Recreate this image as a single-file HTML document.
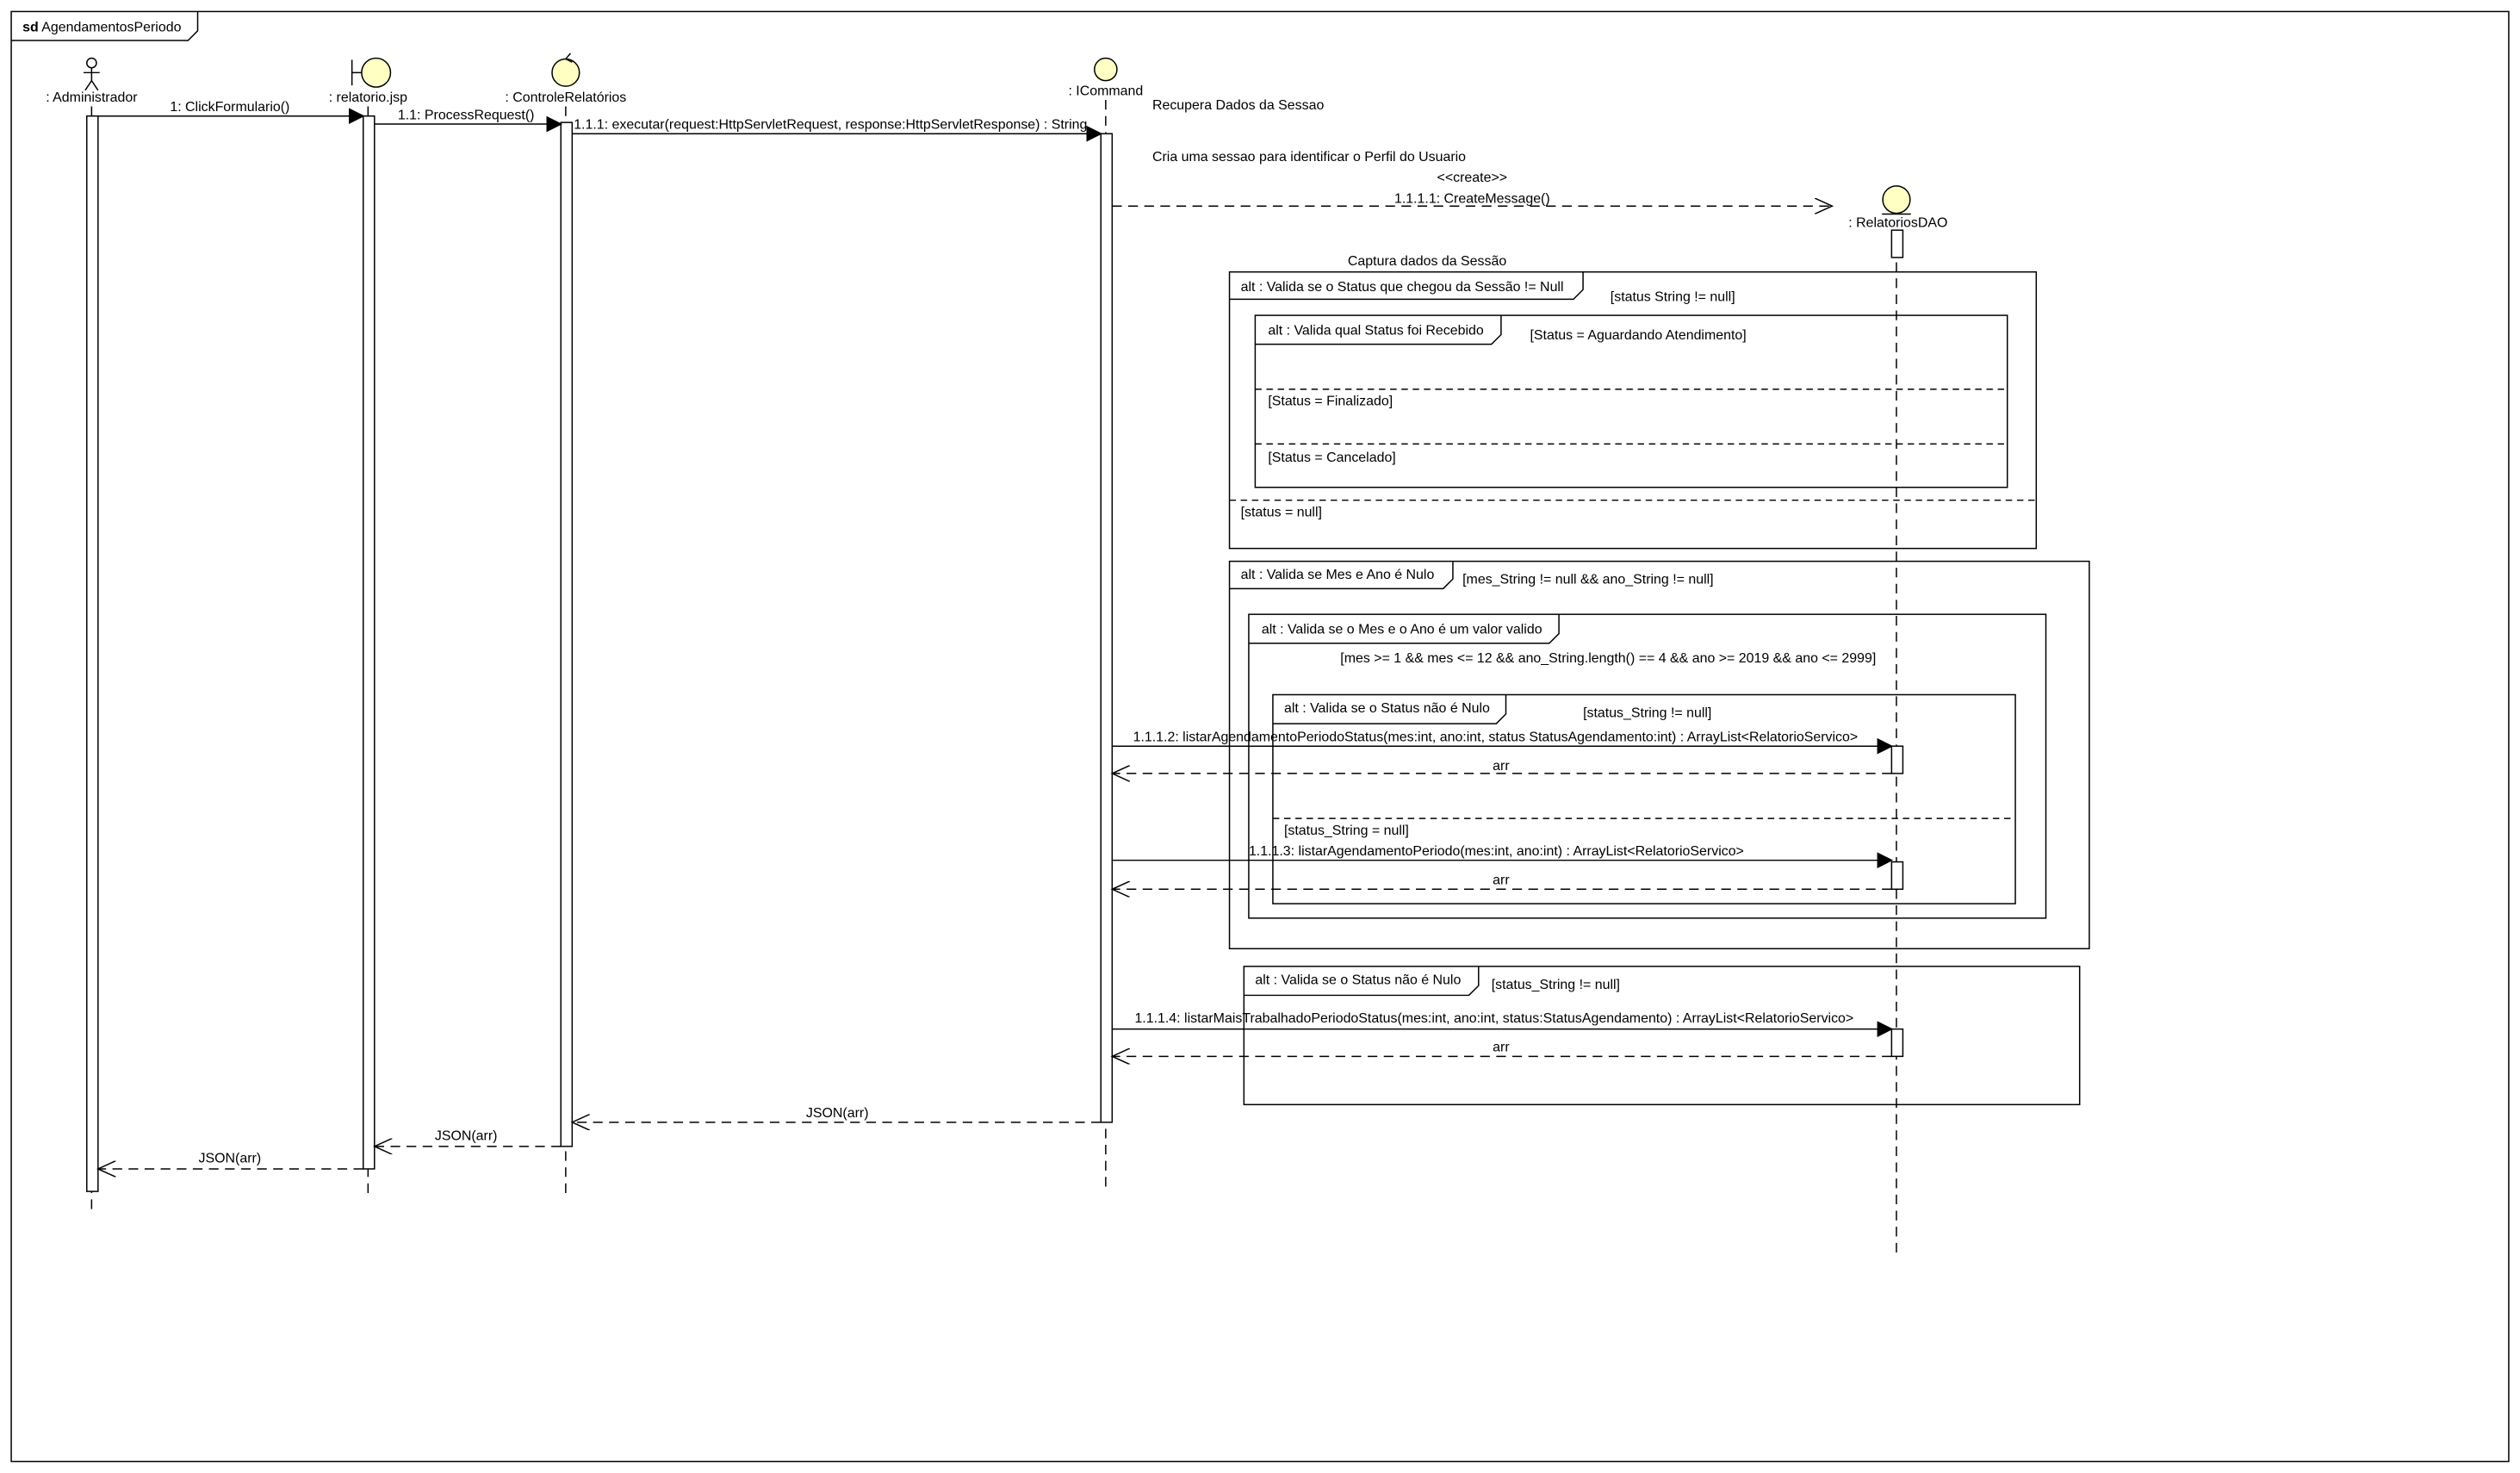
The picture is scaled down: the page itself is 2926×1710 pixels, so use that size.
<!DOCTYPE html>
<html><head><meta charset="utf-8"><style>html,body{margin:0;padding:0;background:#fff}svg{display:block}</style></head>
<body>
<svg width="2926" height="1710" viewBox="0 0 1568 916" xmlns="http://www.w3.org/2000/svg" font-family="Liberation Sans, sans-serif" font-size="8.55" fill="#000">
<defs>
<marker id="f" markerWidth="10" markerHeight="10" refX="9" refY="5" orient="auto" markerUnits="userSpaceOnUse"><path d="M0,0 L10,5 L0,10z" fill="#000"/></marker>
<marker id="o" markerWidth="12" markerHeight="10" refX="11" refY="5" orient="auto" markerUnits="userSpaceOnUse"><path d="M0,0 L11,5 L0,10" fill="none" stroke="#000" stroke-width="0.8"/></marker>
</defs>
<g stroke="#000" stroke-width="0.8" fill="none">
<rect x="7" y="7" width="1554" height="902"/>
<path d="M7,25 H117 L123,19 V7"/>
<g stroke-dasharray="6,4">
<line x1="57" y1="66" x2="57" y2="752"/>
<line x1="229" y1="66" x2="229" y2="742"/>
<line x1="352" y1="66" x2="352" y2="742"/>
<line x1="688" y1="62" x2="688" y2="740"/>
<line x1="1180" y1="143" x2="1180" y2="782"/>
</g>
<circle cx="57" cy="39" r="3"/>
<line x1="57" y1="42" x2="57" y2="50"/><line x1="52" y1="45" x2="62" y2="45"/>
<line x1="57" y1="50" x2="53" y2="56"/><line x1="57" y1="50" x2="61" y2="56"/>
<circle cx="234" cy="45" r="9" fill="#ffffc4"/>
<line x1="219" y1="37" x2="219" y2="53"/><line x1="219" y1="45" x2="225" y2="45"/>
<circle cx="352" cy="45" r="8.5" fill="#ffffc4"/>
<path d="M352,36.5 L355,33 M352,36.5 L356,38.5"/>
<circle cx="688" cy="43" r="7" fill="#ffffc4"/>
<circle cx="1180" cy="124" r="8.5" fill="#ffffc4"/>
<line x1="1171" y1="133" x2="1189" y2="133"/>
<g fill="#fff">
<rect x="54" y="72" width="7" height="669"/>
<rect x="226" y="72" width="7" height="655"/>
<rect x="349" y="76" width="7" height="637"/>
<rect x="685" y="83" width="7" height="615"/>
<rect x="1177" y="143" width="7" height="17"/>
<rect x="1177" y="464" width="7" height="17"/>
<rect x="1177" y="536" width="7" height="17"/>
<rect x="1177" y="640" width="7" height="17"/>
</g>
<line x1="61" y1="72" x2="226" y2="72" marker-end="url(#f)"/>
<line x1="233" y1="77" x2="349" y2="77" marker-end="url(#f)"/>
<line x1="356" y1="83" x2="685" y2="83" marker-end="url(#f)"/>
<line x1="692" y1="128" x2="1140" y2="128" stroke-dasharray="6,4" marker-end="url(#o)"/>
<line x1="692" y1="464" x2="1177" y2="464" marker-end="url(#f)"/>
<line x1="1177" y1="481" x2="692" y2="481" stroke-dasharray="6,4" marker-end="url(#o)"/>
<line x1="692" y1="535" x2="1177" y2="535" marker-end="url(#f)"/>
<line x1="1177" y1="553" x2="692" y2="553" stroke-dasharray="6,4" marker-end="url(#o)"/>
<line x1="692" y1="640" x2="1177" y2="640" marker-end="url(#f)"/>
<line x1="1177" y1="657" x2="692" y2="657" stroke-dasharray="6,4" marker-end="url(#o)"/>
<line x1="685" y1="698" x2="356" y2="698" stroke-dasharray="6,4" marker-end="url(#o)"/>
<line x1="349" y1="713" x2="233" y2="713" stroke-dasharray="6,4" marker-end="url(#o)"/>
<line x1="226" y1="727" x2="61" y2="727" stroke-dasharray="6,4" marker-end="url(#o)"/>
<rect x="765" y="169" width="502" height="172"/><path d="M765,186 H979 L985,180 V169"/>
<line x1="765" y1="311" x2="1267" y2="311" stroke-dasharray="4,3"/>
<rect x="781" y="196" width="468" height="107"/><path d="M781,214 H928 L934,208 V196"/>
<line x1="781" y1="242" x2="1249" y2="242" stroke-dasharray="4,3"/>
<line x1="781" y1="276" x2="1249" y2="276" stroke-dasharray="4,3"/>
<rect x="765" y="349" width="535" height="241"/><path d="M765,366 H898 L904,360 V349"/>
<rect x="777" y="382" width="496" height="189"/><path d="M777,400 H964 L970,394 V382"/>
<rect x="792" y="432" width="462" height="130"/><path d="M792,450 H931 L937,444 V432"/>
<line x1="792" y1="509" x2="1254" y2="509" stroke-dasharray="4,3"/>
<rect x="774" y="601" width="520" height="86"/><path d="M774,619 H914 L920,613 V601"/>
</g>
<text x="14" y="19.5"><tspan font-weight="bold">sd</tspan> AgendamentosPeriodo</text>
<g text-anchor="middle">
<text x="57" y="63">: Administrador</text>
<text x="229" y="63">: relatorio.jsp</text>
<text x="352" y="63">: ControleRelatórios</text>
<text x="688" y="59">: ICommand</text>
<text x="1181" y="141">: RelatoriosDAO</text>
<text x="143" y="69">1: ClickFormulario()</text>
<text x="290" y="74">1.1: ProcessRequest()</text>
<text x="916" y="113">&lt;&lt;create&gt;&gt;</text>
<text x="916" y="126">1.1.1.1: CreateMessage()</text>
<text x="888" y="165">Captura dados da Sessão</text>
<text x="934" y="479">arr</text>
<text x="934" y="550">arr</text>
<text x="934" y="654">arr</text>
<text x="521" y="695">JSON(arr)</text>
<text x="290" y="709">JSON(arr)</text>
<text x="143" y="723">JSON(arr)</text>
</g>
<text x="357" y="80">1.1.1: executar(request:HttpServletRequest, response:HttpServletResponse) : String</text>
<text x="717" y="68">Recupera Dados da Sessao</text>
<text x="717" y="100">Cria uma sessao para identificar o Perfil do Usuario</text>
<text x="772" y="181">alt : Valida se o Status que chegou da Sessão != Null</text>
<text x="1002" y="187">[status String != null]</text>
<text x="789" y="208">alt : Valida qual Status foi Recebido</text>
<text x="952" y="211">[Status = Aguardando Atendimento]</text>
<text x="789" y="252">[Status = Finalizado]</text>
<text x="789" y="287">[Status = Cancelado]</text>
<text x="772" y="321">[status = null]</text>
<text x="772" y="360">alt : Valida se Mes e Ano é Nulo</text>
<text x="910" y="363">[mes_String != null &amp;&amp; ano_String != null]</text>
<text x="785" y="394">alt : Valida se o Mes e o Ano é um valor valido</text>
<text x="834" y="412">[mes &gt;= 1 &amp;&amp; mes &lt;= 12 &amp;&amp; ano_String.length() == 4 &amp;&amp; ano &gt;= 2019 &amp;&amp; ano &lt;= 2999]</text>
<text x="799" y="443">alt : Valida se o Status não é Nulo</text>
<text x="985" y="446">[status_String != null]</text>
<text x="705" y="461">1.1.1.2: listarAgendamentoPeriodoStatus(mes:int, ano:int, status StatusAgendamento:int) : ArrayList&lt;RelatorioServico&gt;</text>
<text x="799" y="519">[status_String = null]</text>
<text x="777" y="532">1.1.1.3: listarAgendamentoPeriodo(mes:int, ano:int) : ArrayList&lt;RelatorioServico&gt;</text>
<text x="781" y="612">alt : Valida se o Status não é Nulo</text>
<text x="928" y="615">[status_String != null]</text>
<text x="706" y="636">1.1.1.4: listarMaisTrabalhadoPeriodoStatus(mes:int, ano:int, status:StatusAgendamento) : ArrayList&lt;RelatorioServico&gt;</text>
</svg>
</body></html>
